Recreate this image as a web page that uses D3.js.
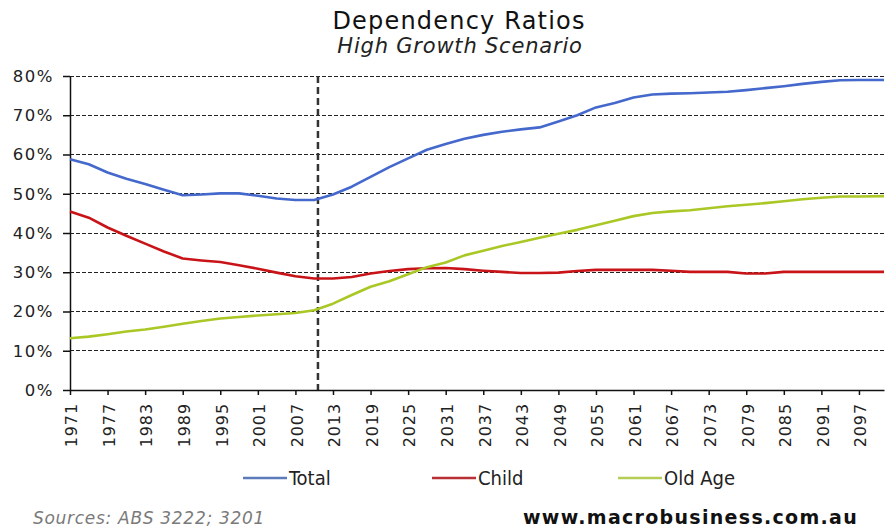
<!DOCTYPE html>
<html>
<head>
<meta charset="utf-8">
<script src="https://cdn.jsdelivr.net/npm/d3@7"></script>
<style>
  html, body { margin: 0; padding: 0; background: #fff; }
  svg { display: block; }
</style>
</head>
<body>
<svg id="chart" width="885" height="531"></svg>
<script>
// ---- data (% of working-age population) ----
const years = [1971,1974,1977,1980,1983,1986,1989,1992,1995,1998,2001,2004,2007,2010,2013,2016,2019,2022,2025,2028,2031,2034,2037,2040,2043,2046,2049,2052,2055,2058,2061,2064,2067,2070,2073,2076,2079,2082,2085,2088,2091,2094,2097,2101];
const total = [58.8,57.5,55.4,53.8,52.5,51.0,49.6,49.8,50.1,50.1,49.5,48.8,48.4,48.4,49.8,51.8,54.3,56.8,59.0,61.2,62.7,64.0,65.0,65.8,66.4,66.9,68.4,70.0,72.0,73.1,74.5,75.3,75.5,75.6,75.8,76.0,76.4,76.9,77.4,78.0,78.5,78.9,79.0,79.0];
const child = [45.5,43.9,41.4,39.3,37.3,35.3,33.5,33.0,32.6,31.8,30.9,29.9,29.0,28.4,28.4,28.8,29.7,30.3,30.8,31.0,31.1,30.8,30.4,30.1,29.8,29.8,29.9,30.3,30.6,30.6,30.6,30.6,30.4,30.1,30.1,30.1,29.7,29.7,30.1,30.1,30.1,30.1,30.1,30.1];
const oldAge = [13.2,13.6,14.2,14.9,15.4,16.1,16.9,17.6,18.2,18.6,19.0,19.3,19.6,20.3,22.0,24.2,26.3,27.7,29.5,31.3,32.5,34.3,35.5,36.7,37.7,38.8,39.8,40.8,42.0,43.1,44.3,45.1,45.5,45.8,46.3,46.8,47.2,47.6,48.1,48.6,49.0,49.3,49.3,49.4];
const seriesNames = ["Total", "Child", "Old Age"];
const tickYears = [1971,1977,1983,1989,1995,2001,2007,2013,2019,2025,2031,2037,2043,2049,2055,2061,2067,2073,2079,2085,2091,2097];
const yTicks = [0,10,20,30,40,50,60,70,80];
const projectionStart = 2010.6;
const titleText = "Dependency Ratios";
const subtitleText = "High Growth Scenario";
const sourceText = "Sources: ABS 3222; 3201";
const siteText = "www.macrobusiness.com.au";

// ---- layout ----
const svg = d3.select("#chart");
const x = d3.scaleLinear().domain([1971, 2101]).range([70, 884]);
const y = d3.scaleLinear().domain([0, 80]).range([390, 76]);
const colors = ["#4468cc", "#c81418", "#a9c825"];
const legendColors = ["#5b7bbd", "#b83034", "#b5cc55"];
const data = [total, child, oldAge];

// titles
svg.append("text").attr("x", 459).attr("y", 29).attr("text-anchor", "middle")
  .attr("font-family", "DejaVu Sans, sans-serif").attr("font-size", 24)
  .attr("letter-spacing", 1.2)
  .attr("fill", "#111").text(titleText);
svg.append("text").attr("x", 460).attr("y", 53).attr("text-anchor", "middle")
  .attr("font-family", "DejaVu Sans, sans-serif").attr("font-size", 21)
  .attr("font-style", "italic").attr("font-weight", 200)
  .attr("letter-spacing", 0.8)
  .attr("fill", "#222").text(subtitleText);

// gridlines
svg.append("g").selectAll("line").data(yTicks.filter(d => d > 0)).join("line")
  .attr("x1", x(1971)).attr("x2", x(2101))
  .attr("y1", d => y(d)).attr("y2", d => y(d))
  .attr("stroke", "#222").attr("stroke-width", 1).attr("stroke-dasharray", "3.5,2.5")
  .attr("shape-rendering", "crispEdges");

// projection marker
svg.append("line").attr("x1", x(projectionStart)).attr("x2", x(projectionStart))
  .attr("y1", y(80)).attr("y2", y(0))
  .attr("stroke", "#333").attr("stroke-width", 2.5).attr("stroke-dasharray", "7,4");

// y axis
const yAxis = svg.append("g").attr("transform", `translate(${x(1971)},0)`)
  .call(d3.axisLeft(y).tickValues(yTicks).tickFormat(d => d + "%").tickSizeInner(7).tickSizeOuter(0).tickPadding(9));
yAxis.selectAll("text").attr("font-family", "DejaVu Sans, sans-serif").attr("font-size", 16.5)
  .attr("letter-spacing", 1.5).attr("fill", "#222");
yAxis.selectAll("path, line").attr("stroke", "#111").attr("stroke-width", 1.5);

// x axis
const xAxis = svg.append("g").attr("transform", `translate(0,${y(0)})`)
  .call(d3.axisBottom(x).tickValues(tickYears).tickFormat(d3.format("d")).tickSizeInner(5).tickSizeOuter(0));
xAxis.select(".domain").attr("stroke", "#111").attr("stroke-width", 1.5);
xAxis.selectAll("line").attr("stroke", "#111").attr("stroke-width", 1.5);
xAxis.selectAll("text")
  .attr("font-family", "DejaVu Sans, sans-serif").attr("font-size", 16)
  .attr("letter-spacing", 0.9).attr("fill", "#222")
  .attr("text-anchor", "end")
  .attr("transform", "rotate(-90)")
  .attr("x", -13).attr("y", 1).attr("dy", "0.36em");

// lines
const line = d3.line().x((d, i) => x(years[i])).y(d => y(d));
svg.append("g").selectAll("path").data(data).join("path")
  .attr("d", d => line(d))
  .attr("fill", "none")
  .attr("stroke", (d, i) => colors[i])
  .attr("stroke-width", 2.6)
  .attr("stroke-linejoin", "round");

// legend
const legendX = [243, 432, 618];
const lg = svg.append("g").selectAll("g").data(seriesNames).join("g")
  .attr("transform", (d, i) => `translate(${legendX[i]},478)`);
lg.append("line").attr("x1", 0).attr("x2", 44).attr("y1", 0).attr("y2", 0)
  .attr("stroke", (d, i) => legendColors[i]).attr("stroke-width", 2.6);
lg.append("text").attr("x", 46).attr("y", 0).attr("dy", "0.36em")
  .attr("font-family", "'DejaVu Sans Condensed', 'Liberation Sans Narrow', sans-serif")
  .attr("font-stretch", "condensed")
  .attr("font-size", 20).attr("fill", "#222").text(d => d);

// footer
svg.append("text").attr("x", 33).attr("y", 524)
  .attr("font-family", "DejaVu Sans, sans-serif").attr("font-style", "italic")
  .attr("font-size", 17).attr("letter-spacing", 0.7)
  .attr("fill", "#7a7a7a").text(sourceText);
svg.append("text").attr("x", 858).attr("y", 524).attr("text-anchor", "end")
  .attr("font-family", "DejaVu Sans, sans-serif").attr("font-weight", "bold")
  .attr("font-size", 19).attr("letter-spacing", 1.3)
  .attr("fill", "#111").text(siteText);
</script>
</body>
</html>
